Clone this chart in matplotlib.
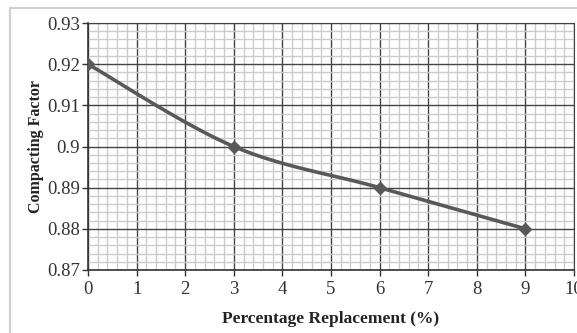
import numpy as np
import matplotlib
matplotlib.use('Agg')
import matplotlib.pyplot as plt
from matplotlib.ticker import MultipleLocator, FormatStrFormatter
from matplotlib.patches import Rectangle

# Values
replacement = [0, 3, 6, 9]
compacting = [0.92, 0.90, 0.89, 0.88]

plt.rcParams['font.family'] = ['Liberation Serif', 'DejaVu Serif']


def smooth_curve(xs, ys, n=40):
    # Excel-style smoothed line: cubic Bezier segments with Catmull-Rom control points
    x = np.asarray(xs, float)
    y = np.asarray(ys, float)
    px, py = [], []
    for i in range(len(x) - 1):
        x0, y0 = (x[i - 1], y[i - 1]) if i > 0 else (x[i], y[i])
        x3, y3 = (x[i + 2], y[i + 2]) if i + 2 < len(x) else (x[i + 1], y[i + 1])
        c1x = x[i] + (x[i + 1] - x0) / 6
        c1y = y[i] + (y[i + 1] - y0) / 6
        c2x = x[i + 1] - (x3 - x[i]) / 6
        c2y = y[i + 1] - (y3 - y[i]) / 6
        t = np.linspace(0, 1, n)
        px.extend((1 - t) ** 3 * x[i] + 3 * (1 - t) ** 2 * t * c1x + 3 * (1 - t) * t ** 2 * c2x + t ** 3 * x[i + 1])
        py.extend((1 - t) ** 3 * y[i] + 3 * (1 - t) ** 2 * t * c1y + 3 * (1 - t) * t ** 2 * c2y + t ** 3 * y[i + 1])
    return px, py


fig = plt.figure(figsize=(5.77, 3.33), dpi=100)
fig.patches.append(Rectangle((10 / 577, -0.1), 1.2, (333 - 8) / 333 + 0.1, transform=fig.transFigure,
                             fill=False, edgecolor='#d0d0d0', linewidth=1.5))

ax = fig.add_axes([88 / 577, 1 - 270 / 333, (574 - 88) / 577, (270 - 23) / 333])

sx, sy = smooth_curve(replacement, compacting)
ax.plot(sx, sy, color='#595959', linewidth=2.6, zorder=3)
ax.plot(replacement, compacting, linestyle='none', marker='D', markersize=6,
        color='#595959', zorder=4)

ax.set_xlim(0, 10)
ax.set_ylim(0.87, 0.93)
ax.xaxis.set_major_locator(MultipleLocator(1))
ax.xaxis.set_minor_locator(MultipleLocator(0.2))
ax.yaxis.set_major_locator(MultipleLocator(0.01))
ax.yaxis.set_minor_locator(MultipleLocator(0.002))
ax.yaxis.set_major_formatter(FormatStrFormatter('%g'))

ax.grid(True, which='minor', color='#cccccc', linewidth=1.0)
ax.grid(True, which='major', color='#444444', linewidth=1.0)
ax.set_axisbelow(True)

for side in ['top', 'right']:
    ax.spines[side].set_color('#444444')
for side in ['left', 'bottom']:
    ax.spines[side].set_color('#333333')
    ax.spines[side].set_linewidth(1.2)

ax.tick_params(which='major', direction='out', length=4, width=1, color='#333333',
               labelsize=13.5, labelcolor='#333333', pad=2)
ax.tick_params(which='minor', length=0)
ax.tick_params(axis='x', pad=4)

ax.set_xlabel('Percentage Replacement (%)', fontsize=12.5, fontweight='bold', color='#222222', labelpad=9)
ax.set_ylabel('Compacting Factor', fontsize=11.5, fontweight='bold', color='#222222', labelpad=2)

fig.savefig('out.png', dpi=100)
